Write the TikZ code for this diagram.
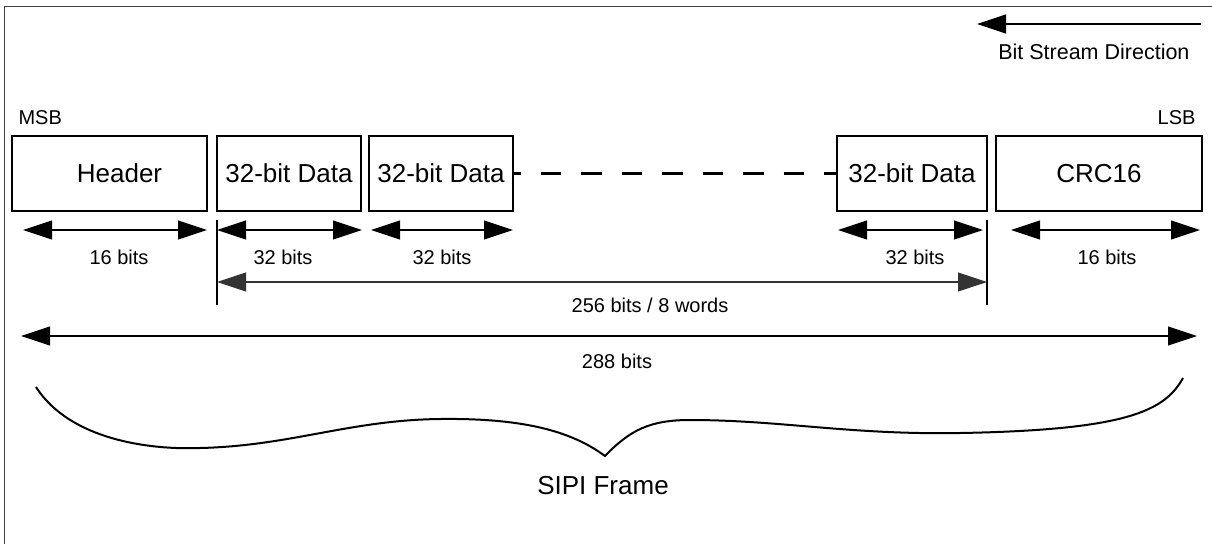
\documentclass[tikz,border=0pt]{standalone}
\usepackage{fontspec}
\setmainfont{Liberation Sans}
\usetikzlibrary{arrows.meta,positioning}

\tikzset{
  field/.style={draw, line width=1.2pt, minimum height=75pt, inner sep=0pt,
    font=\fontsize{26}{31}\selectfont},
  dim/.style={{Triangle[length=29pt,width=19pt]}-{Triangle[length=29pt,width=19pt]},
    line width=1.1pt},
  bits/.style={font=\fontsize{20}{24}\selectfont},
}

\begin{document}
\begin{tikzpicture}[x=1pt,y=-1pt]
    \useasboundingbox (0,0) rectangle (1212,544);
    \draw[line width=1.5pt, black!75] (4.5,544) -- (4.5,6.5) -- (1212,6.5);

    % stream direction
    \coordinate (dirtail) at (1201,24);
    \coordinate (dirtip) at (977,24);
    \draw[-{Triangle[length=29pt,width=19pt]}, line width=1.1pt] (dirtail) -- (dirtip);
    \node[bits, font=\fontsize{21.5}{26}\selectfont, anchor=east] (dirlabel) at (1193,52) {Bit Stream Direction};

    \node[bits, anchor=west] (msb) at (15,118) {MSB};
    \node[bits, anchor=east] (lsb) at (1199,118) {LSB};

    % fields
    \node[field, minimum width=195pt] (header) at (109.5,173.5) {\hspace*{20pt}Header};
    \node[field, minimum width=144pt] (data1) at (289,173.5) {32-bit Data};
    \node[field, minimum width=144pt] (data2) at (441,173.5) {32-bit Data};
    \node[field, minimum width=150pt] (datan) at (912,173.5) {32-bit Data};
    \node[field, minimum width=206pt] (crc) at (1099,173.5) {CRC16};
    \draw[line width=2.5pt, dash pattern=on 20.5pt off 20pt, dash phase=13.5pt]
        (data2.east) -- (datan.west);

    % field widths
    \coordinate (hdrL) at (23,230);   \coordinate (hdrR) at (207,230);
    \coordinate (d1L) at (217,230);   \coordinate (d1R) at (362,230);
    \coordinate (d2L) at (371,230);   \coordinate (d2R) at (513,230);
    \coordinate (dnL) at (838,230);   \coordinate (dnR) at (983,230);
    \coordinate (crcL) at (1011,230); \coordinate (crcR) at (1200,230);
    \draw[dim] (hdrL) -- (hdrR);
    \draw[dim] (d1L) -- (d1R);
    \draw[dim] (d2L) -- (d2R);
    \draw[dim] (dnL) -- (dnR);
    \draw[dim] (crcL) -- (crcR);
    \node[bits] (hdrbits) at (119,257) {16 bits};
    \node[bits] (d1bits) at (283,257) {32 bits};
    \node[bits] (d2bits) at (442,257) {32 bits};
    \node[bits] (dnbits) at (915,257) {32 bits};
    \node[bits] (crcbits) at (1107,257) {16 bits};

    % payload
    \coordinate (tickAtop) at (217,220); \coordinate (tickAbot) at (217,305);
    \coordinate (tickBtop) at (987,220); \coordinate (tickBbot) at (987,305);
    \draw[line width=1.1pt] (tickAtop) -- (tickAbot);
    \draw[line width=1.1pt] (tickBtop) -- (tickBbot);
    \coordinate (payL) at (217,282); \coordinate (payR) at (987,282);
    \draw[dim, black!80] (payL) -- (payR);
    \node[bits] (paybits) at (650,305) {256 bits / 8 words};

    % whole frame
    \coordinate (allL) at (21,336); \coordinate (allR) at (1197,336);
    \draw[dim] (allL) -- (allR);
    \node[bits] (allbits) at (617,361) {288 bits};

    \draw[line width=2pt] (36,387) .. controls (70,440) and (150,450) .. (200,448)
        .. controls (290,446) and (350,420) .. (440,419)
        .. controls (520,418) and (570,430) .. (605,456)
        .. controls (630,430) and (650,420) .. (690,420)
        .. controls (780,420) and (850,435) .. (960,433)
        .. controls (1130,430) and (1165,410) .. (1183,378);
    \node[font=\fontsize{26}{31}\selectfont] (frame) at (603,486) {SIPI Frame};
\end{tikzpicture}
\end{document}
